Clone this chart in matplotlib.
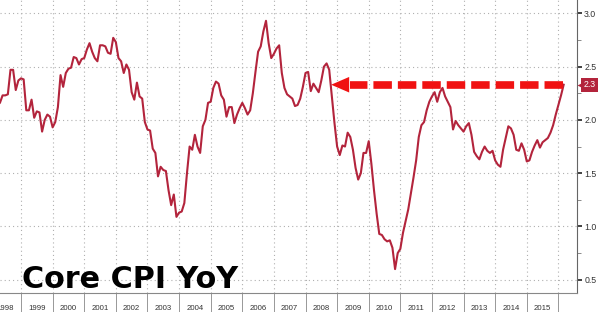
import matplotlib
matplotlib.use("Agg")
import matplotlib.pyplot as plt
from matplotlib.ticker import MultipleLocator, FixedLocator, FixedFormatter
import numpy as np

# Core CPI YoY (%), monthly, Jan 1998 .. Feb 2016
cpi_1998 = [2.22, 2.26, 2.14, 2.16, 2.23, 2.23, 2.24, 2.47, 2.47, 2.28, 2.37, 2.39]
cpi_1999 = [2.38, 2.09, 2.09, 2.19, 2.02, 2.08, 2.07, 1.89, 2.00, 2.05, 2.03, 1.93]
cpi_2000 = [1.98, 2.12, 2.42, 2.31, 2.44, 2.48, 2.49, 2.59, 2.58, 2.52, 2.57, 2.58]
cpi_2001 = [2.66, 2.72, 2.64, 2.58, 2.55, 2.70, 2.70, 2.69, 2.63, 2.62, 2.77, 2.73]
cpi_2002 = [2.58, 2.55, 2.44, 2.52, 2.47, 2.26, 2.19, 2.35, 2.22, 2.20, 1.98, 1.91]
cpi_2003 = [1.90, 1.73, 1.69, 1.47, 1.56, 1.53, 1.52, 1.34, 1.20, 1.30, 1.09, 1.13]
cpi_2004 = [1.14, 1.22, 1.50, 1.75, 1.72, 1.86, 1.75, 1.69, 1.94, 2.00, 2.16, 2.17]
cpi_2005 = [2.30, 2.36, 2.34, 2.23, 2.19, 2.03, 2.12, 2.12, 1.97, 2.05, 2.11, 2.16]
cpi_2006 = [2.11, 2.05, 2.09, 2.25, 2.45, 2.64, 2.69, 2.83, 2.93, 2.72, 2.58, 2.62]
cpi_2007 = [2.67, 2.70, 2.44, 2.30, 2.24, 2.22, 2.20, 2.13, 2.14, 2.20, 2.31, 2.44]
cpi_2008 = [2.45, 2.27, 2.34, 2.30, 2.26, 2.37, 2.50, 2.53, 2.47, 2.22, 1.97, 1.75]
cpi_2009 = [1.67, 1.76, 1.75, 1.88, 1.84, 1.72, 1.55, 1.44, 1.50, 1.69, 1.69, 1.80]
cpi_2010 = [1.59, 1.34, 1.12, 0.93, 0.92, 0.88, 0.86, 0.87, 0.80, 0.60, 0.75, 0.79]
cpi_2011 = [0.94, 1.05, 1.16, 1.31, 1.46, 1.62, 1.84, 1.95, 1.98, 2.09, 2.17, 2.22]
cpi_2012 = [2.26, 2.17, 2.26, 2.30, 2.22, 2.17, 2.12, 1.91, 1.99, 1.95, 1.92, 1.89]
cpi_2013 = [1.94, 1.97, 1.86, 1.70, 1.66, 1.63, 1.70, 1.75, 1.71, 1.69, 1.71, 1.62]
cpi_2014 = [1.58, 1.56, 1.72, 1.83, 1.94, 1.92, 1.86, 1.72, 1.71, 1.78, 1.72, 1.61]
cpi_2015 = [1.62, 1.70, 1.76, 1.81, 1.74, 1.79, 1.81, 1.83, 1.88, 1.95, 2.05, 2.14]
cpi_2016 = [2.23, 2.33]

year_labels = [str(y) for y in range(1998, 2016)]
title = "Core CPI YoY"
last_label = "2.3"

# dashed arrow: level and start/end dates (decimal years)
arrow_level = 2.33
arrow_tail = 2016.15
arrow_base = 2009.41
arrow_tip = 2008.81

line_color = "#b3243c"
arrow_color = "#f01212"
tag_color = "#b3243c"


def main():
    plt.rcParams["lines.scale_dashes"] = False

    values = np.concatenate([cpi_1998, cpi_1999, cpi_2000, cpi_2001, cpi_2002,
                             cpi_2003, cpi_2004, cpi_2005, cpi_2006, cpi_2007,
                             cpi_2008, cpi_2009, cpi_2010, cpi_2011, cpi_2012,
                             cpi_2013, cpi_2014, cpi_2015, cpi_2016])
    # month-end positions in decimal years
    t = 1998 + (np.arange(len(values)) + 1) / 12

    fig = plt.figure(figsize=(6, 3.12), dpi=100)
    ax = fig.add_axes([0, 0.061, 0.962, 0.939])

    ax.plot(t, values, color=line_color, lw=1.5, zorder=3)

    ax.set_xlim(1998.335, 2016.595)
    ax.set_ylim(0.376, 3.125)

    # y axis on the right
    ax.yaxis.tick_right()
    ax.yaxis.set_major_locator(MultipleLocator(0.5))
    ax.yaxis.set_minor_locator(MultipleLocator(0.25))
    ax.yaxis.set_major_formatter(lambda v, p: f"{v:.1f}")
    ax.tick_params(axis="y", which="major", direction="out", length=3.5, width=1.3,
                   color="#333333", pad=1.5, labelsize=6.3, labelcolor="#333333")
    ax.tick_params(axis="y", which="minor", direction="out", length=3, width=0.6,
                   color="#777777")
    for lab in ax.get_yticklabels():
        lab.set_fontfamily("Liberation Sans")

    # x axis: separators at year boundaries, labels in between
    ax.xaxis.set_major_locator(FixedLocator(range(1998, 2017)))
    ax.xaxis.set_major_formatter(FixedFormatter([""] * 19))
    ax.xaxis.set_minor_locator(FixedLocator([y + 0.5 for y in range(1998, 2016)]))
    ax.xaxis.set_minor_formatter(FixedFormatter(year_labels))
    ax.tick_params(axis="x", which="major", direction="out", length=14, width=0.6,
                   color="#888888")
    ax.tick_params(axis="x", which="minor", length=0, pad=8.8, labelsize=5.6,
                   labelcolor="#333333")
    for lab in ax.xaxis.get_minorticklabels():
        lab.set_fontfamily("Liberation Sans")

    ax.grid(True, which="major", color="#b0b0b0", lw=0.8, linestyle=(0, (0.8, 2.2)))

    for side in ["left", "top"]:
        ax.spines[side].set_visible(False)
    ax.spines["right"].set_color("#666666")
    ax.spines["bottom"].set_color("#888888")
    ax.spines["right"].set_linewidth(0.8)
    ax.spines["bottom"].set_linewidth(0.8)

    # dashed red arrow
    ax.plot([arrow_tail, arrow_base], [arrow_level, arrow_level], color=arrow_color,
            lw=5.5, linestyle=(0, (13.3, 4.3)), dash_capstyle="butt", zorder=4)
    ax.annotate("", xy=(arrow_tip, arrow_level), xytext=(arrow_base, arrow_level),
                arrowprops=dict(arrowstyle="-|>,head_length=13,head_width=5.6",
                                mutation_scale=1, color=arrow_color, lw=0,
                                shrinkA=0, shrinkB=0), zorder=4)

    # last value tag
    ytrans = ax.get_yaxis_transform()
    ax.plot([1.006], [arrow_level], transform=ytrans, marker="<", ms=6,
            color=tag_color, mec="none", clip_on=False)
    ax.annotate(last_label, xy=(1, arrow_level), xycoords=ytrans,
                xytext=(4.5, 0), textcoords="offset points", ha="left", va="center",
                fontsize=6.3, color="white", family="Liberation Sans",
                bbox=dict(boxstyle="square,pad=0.3", fc=tag_color, ec="none"))

    fig.text(0.036, 0.078, title, fontsize=21.8, fontweight="bold", color="black",
             va="baseline", ha="left")

    fig.savefig("out.png", dpi=100)


if __name__ == "__main__":
    main()
